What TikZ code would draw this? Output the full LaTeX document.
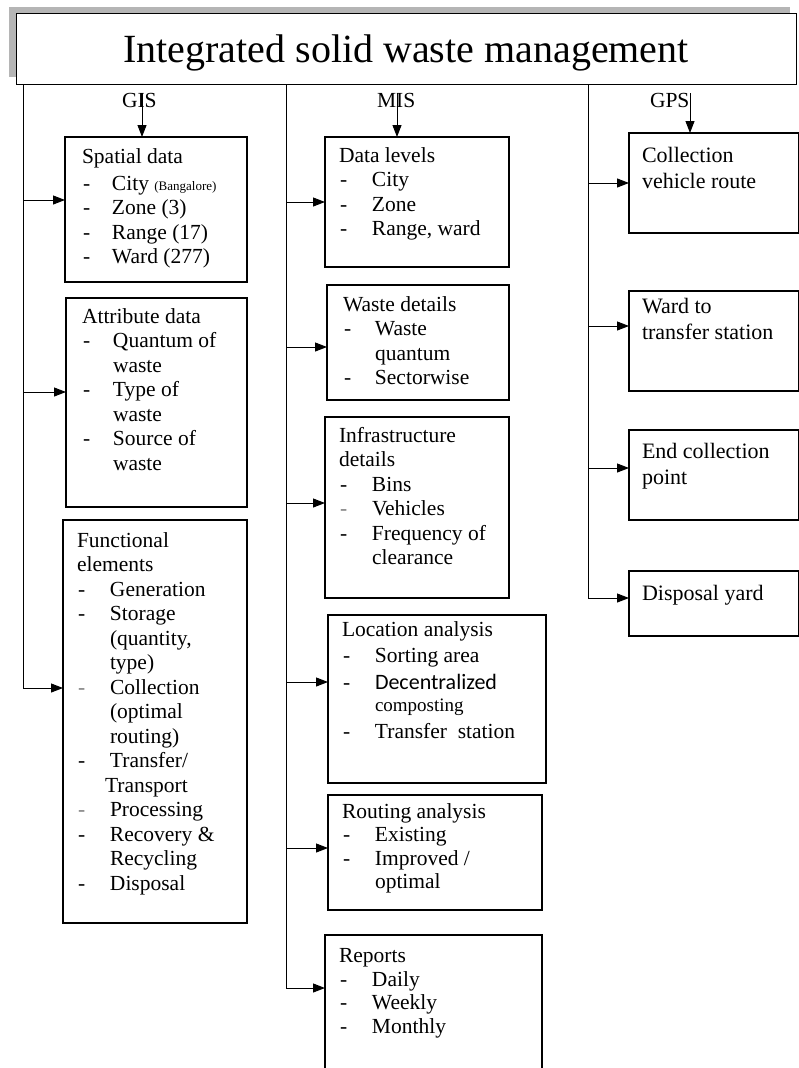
\documentclass[tikz,border=0pt]{standalone}
\usepackage{fontspec}
\setmainfont{Liberation Serif}
\newfontfamily\calfont{Carlito}
\usetikzlibrary{arrows.meta}
\newcommand\itm[2][30pt]{\makebox[#1][l]{\hspace{1pt}-}#2}
\newcommand\itmg[2][30pt]{\makebox[#1][l]{\hspace{1pt}\textcolor{gray}{-}}#2}
\newcommand\cont[2][30pt]{\hspace*{#1}#2}
\newcommand\lines[1]{\begin{tabular}[t]{@{}l@{}}#1\end{tabular}}
\begin{document}
\begin{tikzpicture}[x=1pt,y=-1pt,
  bx/.style={draw=black, line width=1.1pt, anchor=north west, inner sep=0pt, outer sep=0pt},
  txt/.style={anchor=base west, inner sep=0pt, outer sep=0pt, font=\fontsize{21.5}{24.5}\selectfont},
  txtg/.style={anchor=base west, inner sep=0pt, outer sep=0pt, font=\fontsize{22}{26}\selectfont},
  ln/.style={line width=1pt},
  arr/.style={line width=1pt, -{Triangle[length=12pt,width=9pt]}}]
\useasboundingbox (0,0) rectangle (799,1068);
% title with shadow
\fill[gray!95!black!55] (9,7) rectangle (790,77);
\node[draw=black, line width=1.2pt, fill=white, anchor=north west, minimum width=780pt, minimum height=71pt, inner sep=0pt] (title) at (16,13) {};
\node[anchor=base, inner sep=0pt, font=\fontsize{40}{44}\selectfont] (titlet) at (406,62) {Integrated solid waste management};
% column lines
\coordinate (c1t) at (23,84);  \coordinate (c1b) at (23,688);
\coordinate (c2t) at (286,84); \coordinate (c2b) at (286,988);
\coordinate (c3t) at (588,84); \coordinate (c3b) at (588,598);
\draw[ln] (c1t) -- (c1b);
\draw[ln] (c2t) -- (c2b);
\draw[ln] (c3t) -- (c3b);
% labels
\node[txt] (gis) at (122,107) {GIS};
\node[txt] (mis) at (377,107) {MIS};
\node[txt] (gps) at (650,107) {GPS};
\coordinate (gisa) at (142,93);
\coordinate (misa) at (397,93);
\coordinate (gpsa) at (690,93);
% ---------- column 1 ----------
\node[bx, minimum width=182pt, minimum height=145pt] (sp) at (65,137) {};
\node[txt] (spt) at (82,163) {\lines{Spatial data\\[2.5pt]
  \itm{City {\fontsize{13}{15}\selectfont(Bangalore)}}\\
  \itm{Zone (3)}\\ \itm{Range (17)}\\ \itm{Ward (277)}}};
\node[bx, minimum width=181pt, minimum height=209pt] (at) at (66,298) {};
\node[txt] (att) at (82,323) {\lines{Attribute data\\
  \itm[31pt]{Quantum of}\\ \cont[31pt]{waste}\\ \itm[31pt]{Type of}\\ \cont[31pt]{waste}\\
  \itm[31pt]{Source of}\\ \cont[31pt]{waste}}};
\node[bx, minimum width=184pt, minimum height=403pt] (fe) at (63,520) {};
\node[txt] (fet) at (77,547) {\lines{Functional\\ elements\\
  \itm[33pt]{Generation}\\ \itm[33pt]{Storage}\\ \cont[33pt]{(quantity,}\\ \cont[33pt]{type)}\\
  \itmg[33pt]{Collection}\\ \cont[33pt]{(optimal}\\ \cont[33pt]{routing)}\\
  \itm[33pt]{Transfer/}\\ \cont[28pt]{Transport}\\ \itmg[33pt]{Processing}\\
  \itm[33pt]{Recovery \&}\\ \cont[33pt]{Recycling}\\ \itm[33pt]{Disposal}}};
% ---------- column 2 ----------
\node[bx, minimum width=184pt, minimum height=130pt] (dl) at (325,137) {};
\node[txt] (dlt) at (339,162) {\lines{Data levels\\
  \itm[33pt]{City}\\ \itm[33pt]{Zone}\\ \itm[33pt]{Range, ward}}};
\node[bx, minimum width=182pt, minimum height=115pt] (wd) at (327,285) {};
\node[txt] (wdt) at (343,311) {\lines{Waste details\\
  \itm[32pt]{Waste}\\ \cont[32pt]{quantum}\\ \itm[32pt]{Sectorwise}}};
\node[bx, minimum width=184pt, minimum height=181pt] (id) at (325,417) {};
\node[txt] (idt) at (339,442) {\lines{Infrastructure\\ details\\
  \itm[33pt]{Bins}\\ \itmg[33pt]{Vehicles}\\ \itm[33pt]{Frequency of}\\ \cont[33pt]{clearance}}};
\node[bx, minimum width=218pt, minimum height=168pt] (la) at (328,615) {};
\node[txt] (lat) at (342,636) {\lines{Location analysis\\[1.5pt]
  \itm[33pt]{Sorting area}\\[2.5pt]
  \itm[33pt]{{\calfont\fontsize{22}{24.5}\selectfont Decentralized}}\\[-2.5pt]
  \cont[33pt]{{\fontsize{19}{24.5}\selectfont composting}}\\[2.5pt]
  \itm[33pt]{Transfer\ \ station}}};
\node[bx, minimum width=214pt, minimum height=115pt] (ra) at (328,795) {};
\node[txt] (rat) at (342,818) {\lines{Routing analysis\\[-1pt]
  \itm[33pt]{Existing}\\[-1pt] \itm[33pt]{Improved /}\\[-1pt] \cont[33pt]{optimal}}};
\node[bx, minimum width=217pt, minimum height=150pt] (rp) at (325,935) {};
\node[txt] (rpt) at (339,962) {\lines{Reports\\[-0.5pt]
  \itm[33pt]{Daily}\\[-1pt] \itm[33pt]{Weekly}\\[-1pt] \itm[33pt]{Monthly}}};
% ---------- column 3 ----------
\node[bx, minimum width=170pt, minimum height=100pt] (cv) at (629,133) {};
\node[txtg] (cvt) at (642,162) {\lines{Collection\\ vehicle route}};
\node[bx, minimum width=170pt, minimum height=100pt] (wt) at (629,291) {};
\node[txtg] (wtt) at (642,313) {\lines{Ward to\\ transfer station}};
\node[bx, minimum width=170pt, minimum height=90pt] (ec) at (629,430) {};
\node[txtg] (ect) at (642,458) {\lines{End collection\\ point}};
\node[bx, minimum width=170pt, minimum height=65pt] (dy) at (629,571) {};
\node[txtg] (dyt) at (642,600) {Disposal yard};
% ---------- arrows ----------
\draw[arr] (gisa) -- (gisa |- sp.north);
\draw[arr] (misa) -- (misa |- dl.north);
\draw[arr] (gpsa) -- (gpsa |- cv.north);
\foreach \y/\b in {200/sp, 392/at, 688/fe}{
  \coordinate (p) at (23,\y); \draw[arr] (p) -- (p -| \b.west);}
\foreach \y/\b in {202/dl, 347/wd, 503/id, 682/la, 848/ra, 988/rp}{
  \coordinate (p) at (286,\y); \draw[arr] (p) -- (p -| \b.west);}
\foreach \y/\b in {183/cv, 326/wt, 468/ec, 598/dy}{
  \coordinate (p) at (588,\y); \draw[arr] (p) -- (p -| \b.west);}
\end{tikzpicture}
\end{document}
